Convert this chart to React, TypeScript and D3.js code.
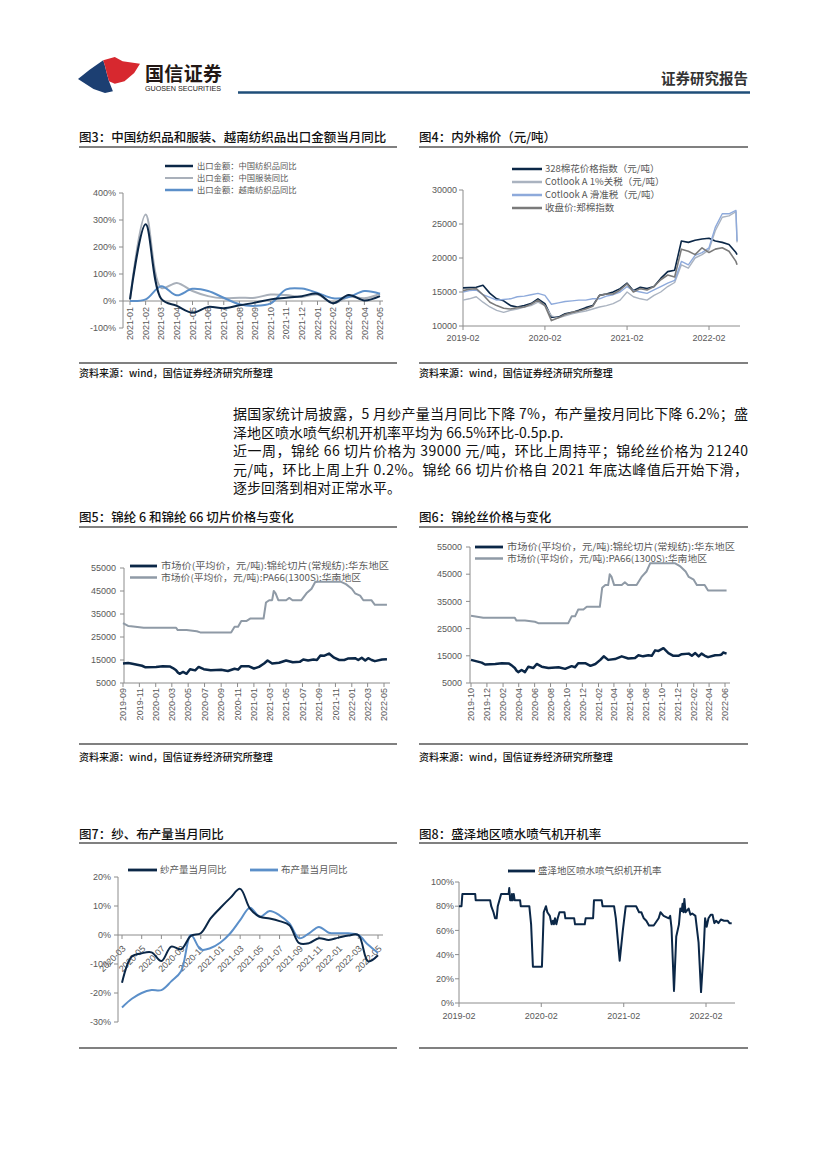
import React from "react";
import * as d3 from "d3";

const CJK = "'Noto Sans CJK SC','Noto Sans',sans-serif";
const NUM = "'Liberation Sans','DejaVu Sans',sans-serif";
const NAVY = "#0b2747";
const AXIS = "#8c8c8c";
const LABEL = "#595959";
const RULE = "#808080";

const parseDay = d3.timeParse("%Y-%m-%d");
const parseMonth = d3.timeParse("%Y-%m");

// ---------------- Chart 3 data ----------------
const c3Months = ["2021-01","2021-02","2021-03","2021-04","2021-05","2021-06","2021-07","2021-08","2021-09","2021-10","2021-11","2021-12","2022-01","2022-02","2022-03","2022-04","2022-05"];
const c3Textile = [6,284,8,-18,-43,-22,-27,-16,-6,6,12,18,27,-8,22,2,18];
const c3Apparel = [5,320,49,67,37,18,10,12,12,24,22,15,24,-8,15,10,27];
const c3Vietnam = [0,6,55,21,45,37,12,-12,-18,-9,43,46,30,10,15,37,27];
const c3Ticks = [-100,0,100,200,300,400];

// ---------------- Chart 4 data ----------------
const c4Dates = ["2019-02-01","2019-03-01","2019-04-01","2019-05-01","2019-06-01","2019-07-01","2019-08-01","2019-09-01","2019-10-01","2019-11-01","2019-12-01",
  "2020-01-01","2020-02-01","2020-03-01","2020-04-01","2020-05-01","2020-06-01","2020-07-01","2020-08-01","2020-09-01","2020-10-01","2020-11-01","2020-12-01",
  "2021-01-01","2021-02-01","2021-03-01","2021-04-01","2021-05-01","2021-06-01","2021-07-01","2021-08-01","2021-09-01","2021-10-01","2021-11-01","2021-12-01",
  "2022-01-01","2022-02-01","2022-03-01","2022-04-01","2022-05-01","2022-06-01","2022-06-06"];
const c4Index328 = [15600,15650,15700,16000,14800,14000,13700,13000,12800,13000,13300,14000,13300,11300,11300,11800,12000,12300,12700,13000,14500,14700,15000,15500,16300,15200,15700,15500,15800,17000,18000,18200,22500,22300,22600,22800,22900,22500,22300,22000,20800,20500];
const c4Cotlook1 = [13800,14000,14300,13500,12800,12300,12000,12300,12500,12800,13000,13500,13000,11500,11200,11500,11800,12000,12200,12500,12800,13000,13300,13800,15000,14300,14000,13800,14500,15000,15800,16400,19000,18500,20000,20500,21200,24000,26000,26200,26800,22300];
const c4CotlookSlide = [15000,15200,15300,14600,14200,13800,13900,14000,14300,14400,14600,14800,14500,13200,13400,13600,13700,13800,13800,14000,14000,14400,14600,15000,15800,15200,15000,14800,15300,15800,16300,16700,19500,19000,20400,20800,21500,24500,26500,26500,27000,22500];
const c4Zce = [15200,15400,15500,14600,13500,13000,12600,12500,12700,12800,13200,13800,13000,10800,11200,11700,12000,12200,12500,12900,14500,14700,14700,15300,16200,15000,15500,15300,15800,16800,17500,17200,21300,21000,20500,21500,20800,21300,21500,21000,19500,19000];
const c4Ticks = [10000,15000,20000,25000,30000];
const c4XTicks = ["2019-02","2020-02","2021-02","2022-02"];

// ---------------- Chart 5/6 data ----------------
const pa6Dates = ["2019-09-01","2019-09-20","2019-10-01","2019-11-11","2019-11-24","2020-01-02","2020-01-27","2020-02-22","2020-03-05","2020-03-17","2020-03-24","2020-03-30","2020-04-12","2020-04-25","2020-05-08","2020-05-27","2020-06-09","2020-06-28","2020-07-24","2020-09-01","2020-09-26","2020-10-21","2020-11-03","2020-11-15","2020-12-12","2021-01-01","2021-01-20","2021-02-08","2021-02-21","2021-03-10","2021-04-05","2021-05-01","2021-05-26","2021-06-21","2021-07-04","2021-07-22","2021-08-11","2021-08-24","2021-09-06","2021-09-19","2021-10-08","2021-10-27","2021-11-15","2021-12-04","2021-12-17","2022-01-13","2022-01-25","2022-02-07","2022-02-20","2022-03-03","2022-03-16","2022-03-28","2022-04-24","2022-05-12","2022-05-19","2022-05-25","2022-06-07"];
const pa6Prices = [13500,13700,13500,12500,11800,12000,12300,12200,11500,10500,9500,9000,9800,9000,11000,10500,12000,11000,10500,10800,10200,11200,10800,12300,12300,11300,12000,13500,14800,13500,13800,14800,14000,14200,15200,14800,15200,15000,17000,16800,17800,16000,15000,15000,15600,15800,15000,16000,14800,15800,15000,14500,15200,15300,15500,16200,15800];
const pa66Dates = ["2019-09-01","2019-09-20","2019-10-01","2019-11-17","2020-03-17","2020-03-23","2020-04-25","2020-06-02","2020-06-15","2020-10-08","2020-10-21","2020-11-03","2020-11-15","2020-12-05","2020-12-18","2021-02-06","2021-02-15","2021-02-27","2021-03-10","2021-03-16","2021-03-23","2021-04-02","2021-05-01","2021-05-13","2021-05-25","2021-06-27","2021-07-16","2021-08-04","2021-08-18","2021-11-22","2021-12-10","2022-01-01","2022-01-13","2022-02-01","2022-02-13","2022-03-15","2022-03-28","2022-05-12","2022-06-07"];
const pa66Prices = [31000,29800,29700,29000,29000,28000,28000,27500,27000,27000,29500,29500,32000,32000,33000,33000,40000,41000,41000,45000,44000,41000,41000,42000,41000,41000,44000,46000,49000,49000,48000,46000,44000,43000,41000,41000,39000,39000,39000];
const nylonTicks = [5000,15000,25000,35000,45000,55000];
const c5XTicks = ["2019-09","2019-11","2020-01","2020-03","2020-05","2020-07","2020-09","2020-11","2021-01","2021-03","2021-05","2021-07","2021-09","2021-11","2022-01","2022-03","2022-05"];
const c6XTicks = ["2019-10","2019-12","2020-02","2020-04","2020-06","2020-08","2020-10","2020-12","2021-02","2021-04","2021-06","2021-08","2021-10","2021-12","2022-02","2022-04","2022-06"];

// ---------------- Chart 7 data ----------------
const c7Months = ["2020-03","2020-04","2020-05","2020-06","2020-07","2020-08","2020-09","2020-10","2020-11","2020-12","2021-01","2021-02","2021-03","2021-04","2021-05","2021-06","2021-07","2021-08","2021-09","2021-10","2021-11","2021-12","2022-01","2022-02","2022-03","2022-04","2022-05"];
const c7Yarn = [-16.5,-7.4,-6.3,-6,-9,-4,-4.9,-0.3,0.6,5.7,9.4,12.8,15.9,9.1,6.3,5.7,4.8,3.4,-2.8,-2.8,-1.1,-1.7,-0.9,-0.2,0,-9.1,-7];
const c7Fabric = [-25,-22,-20,-19,-19,-16,-12.5,0,-5,-4.5,-2.6,0.6,5.1,9.4,6.3,8.3,6.8,4,-1.1,0.6,2.8,0.8,0.6,0.6,0,-3.4,-6.2];
const c7Ticks = [-30,-20,-10,0,10,20];
const c7XTicks = ["2020-03","2020-05","2020-07","2020-09","2020-11","2021-01","2021-03","2021-05","2021-07","2021-09","2021-11","2022-01","2022-03","2022-05"];

// ---------------- Chart 8 data ----------------
const c8Dates = ["2019-02-01","2019-02-12","2019-02-16","2019-04-14","2019-04-16","2019-06-19","2019-06-24","2019-07-04","2019-07-11","2019-07-18",
  "2019-07-23","2019-08-07","2019-09-09","2019-09-12","2019-09-16","2019-09-22","2019-09-24","2019-09-28","2019-10-02","2019-10-06",
  "2019-10-30","2019-11-02","2019-12-10","2019-12-18","2019-12-26","2020-02-04","2020-02-12","2020-02-18","2020-02-22","2020-02-28",
  "2020-03-10","2020-03-18","2020-03-24","2020-03-28","2020-04-02","2020-04-08","2020-04-14","2020-04-22","2020-05-14","2020-05-18",
  "2020-06-26","2020-06-30","2020-08-12","2020-08-16","2020-09-18","2020-09-22","2020-10-26","2020-10-30","2020-12-20","2020-12-28",
  "2021-01-14","2021-01-28","2021-02-10","2021-03-28","2021-04-10","2021-04-20","2021-05-01","2021-05-12","2021-05-24","2021-06-14",
  "2021-07-06","2021-07-14","2021-07-28","2021-08-20","2021-08-26","2021-09-01","2021-09-12","2021-09-22","2021-10-04","2021-10-10",
  "2021-10-16","2021-10-20","2021-10-24","2021-10-28","2021-11-02","2021-11-16","2021-11-24","2021-12-02","2021-12-16","2021-12-30",
  "2022-01-10","2022-01-22","2022-01-28","2022-02-04","2022-02-12","2022-02-22","2022-03-02","2022-03-10","2022-03-18","2022-03-28",
  "2022-04-08","2022-04-22","2022-05-08","2022-05-16","2022-05-26"];
const c8Rates = [80,80,90,90,85,85,80,75,70,70,
  80,90,90,95,85,85,90,85,90,85,
  85,80,80,65,30,30,75,78,80,75,
  72,65,68,65,70,65,70,75,75,70,
  70,65,65,70,70,85,85,80,80,70,
  35,60,80,80,75,75,70,68,64,64,
  70,75,72,70,72,62,10,55,65,78,
  76,82,75,86,75,78,73,74,72,50,
  9,45,70,63,70,73,73,66,68,66,
  69,68,68,66,66];
const c8Ticks = [0,20,40,60,80,100];
const c8XTicks = ["2019-02","2020-02","2021-02","2022-02"];

// ---------------- Body text ----------------
const bodyLines = [
  "据国家统计局披露，5 月纱产量当月同比下降 7%，布产量按月同比下降 6.2%；盛",
  "泽地区喷水喷气织机开机率平均为 66.5%环比-0.5p.p.",
  "近一周，锦纶 66 切片价格为 39000 元/吨，环比上周持平；锦纶丝价格为 21240",
  "元/吨，环比上周上升 0.2%。锦纶 66 切片价格自 2021 年底达峰值后开始下滑，",
  "逐步回落到相对正常水平。",
];
const bodyFull = [true, false, true, true, false];

type Pt = { d: Date; v: number };
const zipDates = (ds: string[], vs: number[]): Pt[] => ds.map((s, i) => ({ d: parseDay(s)!, v: vs[i] }));

function Title({ x, y, text }: { x: number; y: number; text: string }) {
  return <text x={x} y={y} fontSize={12.5} fontWeight={500} fill="#111" fontFamily={CJK}>{text}</text>;
}
function Rule({ x1, x2, y }: { x1: number; x2: number; y: number }) {
  return <line x1={x1} x2={x2} y1={y} y2={y} stroke={RULE} strokeWidth={2.2} />;
}
function Source({ x, y }: { x: number; y: number }) {
  return <text x={x} y={y} fontSize={10} fontWeight={500} fill="#111" fontFamily={CJK}>资料来源：wind，国信证券经济研究所整理</text>;
}
function LegendRow({ x1, x2, tx, y, color, sw, text, len, fs = 9 }: { x1: number; x2: number; tx: number; y: number; color: string; sw: number; text: string; len?: number; fs?: number }) {
  return (
    <g>
      <line x1={x1} x2={x2} y1={y} y2={y} stroke={color} strokeWidth={sw} />
      <text x={tx} y={y} dy="0.35em" fontSize={fs} fill={LABEL} fontFamily={CJK} textLength={len} lengthAdjust="spacingAndGlyphs">{text}</text>
    </g>
  );
}
function YAxis({ x, y1, y2, ticks, scale, fmt, labelX }: { x: number; y1: number; y2: number; ticks: number[]; scale: (v: number) => number; fmt: (v: number) => string; labelX: number }) {
  return (
    <g>
      <line x1={x} x2={x} y1={y1} y2={y2} stroke={AXIS} strokeWidth={1} />
      {ticks.map((t) => (
        <g key={t}>
          <line x1={x - 4} x2={x} y1={scale(t)} y2={scale(t)} stroke={AXIS} />
          <text x={labelX} y={scale(t)} dy="0.35em" textAnchor="end" fontSize={9} fill={LABEL} fontFamily={NUM}>{fmt(t)}</text>
        </g>
      ))}
    </g>
  );
}

function Header() {
  return (
    <g>
      <path d="M78,79 L89.6,69.7 L103.2,60.3 L105,66 L106.7,73 L109,81.3 L112.9,91.3 L105,93 L93.5,89 Z" fill="#1c3f72" />
      <path d="M103.2,60.3 L114.8,57 L122.6,61.3 L140,63.7 L134.2,73 L124.5,81.3 L114.8,83.7 L109,81.3 L106.7,73 L105,66 Z" fill="#d7282f" />
      <text x={145} y={81} fontSize={19} fontWeight="bold" fill="#231815" fontFamily={CJK} textLength={77}>国信证券</text>
      <text x={145} y={91} fontSize={6.5} fill="#231815" fontFamily={NUM} textLength={76} lengthAdjust="spacingAndGlyphs">GUOSEN SECURITIES</text>
      <text x={748} y={84} fontSize={14.5} fontWeight="bold" fill="#333" textAnchor="end" fontFamily={CJK}>证券研究报告</text>
      <line x1={238} x2={750} y1={92.5} y2={92.5} stroke="#1f4e79" strokeWidth={2.5} />
    </g>
  );
}

function Chart3() {
  const x = d3.scalePoint<string>().domain(c3Months).range([130, 380]);
  const y = d3.scaleLinear().domain([-100, 400]).range([328, 193]);
  const line = d3.line<number>().x((_, i) => x(c3Months[i])!).y((d) => y(d)).curve(d3.curveCatmullRom.alpha(0.5));
  const y0 = y(0);
  return (
    <g>
      <Title x={79} y={141.5} text="图3：中国纺织品和服装、越南纺织品出口金额当月同比" />
      <Rule x1={79} x2={397} y={147} />
      <LegendRow x1={165} x2={193} tx={197} y={166} color={NAVY} sw={2.5} text="出口金额：中国纺织品同比" fs={8.3} />
      <LegendRow x1={165} x2={193} tx={197} y={178} color="#a9b0ba" sw={2} text="出口金额：中国服装同比" fs={8.3} />
      <LegendRow x1={165} x2={193} tx={197} y={190} color="#5b8fc9" sw={2.5} text="出口金额：越南纺织品同比" fs={8.3} />
      <YAxis x={123} y1={193} y2={328} ticks={c3Ticks} scale={y} fmt={(v) => `${v}%`} labelX={116} />
      <line x1={123} x2={383} y1={y0} y2={y0} stroke={AXIS} />
      {c3Months.map((m) => (
        <g key={m}>
          <line x1={x(m)} x2={x(m)} y1={y0} y2={y0 + 4} stroke={AXIS} />
          <text transform={`translate(${x(m)},${y0 + 6}) rotate(-90)`} dy="0.35em" textAnchor="end" fontSize={9} fill={LABEL} fontFamily={NUM}>{m}</text>
        </g>
      ))}
      <path d={line(c3Apparel)!} fill="none" stroke="#a9b0ba" strokeWidth={2} />
      <path d={line(c3Vietnam)!} fill="none" stroke="#5b8fc9" strokeWidth={2} />
      <path d={line(c3Textile)!} fill="none" stroke={NAVY} strokeWidth={2} />
      <Rule x1={79} x2={397} y={363} />
      <Source x={79} y={377} />
    </g>
  );
}

function Chart4() {
  const x = d3.scaleTime().domain([parseDay("2019-02-01")!, parseDay("2022-02-01")!]).range([463, 709]);
  const y = d3.scaleLinear().domain([10000, 30000]).range([326, 190]);
  const line = d3.line<Pt>().x((p) => x(p.d)).y((p) => y(p.v));
  const series = [
    { v: c4Index328, c: NAVY, w: 1.6 },
    { v: c4Cotlook1, c: "#aab3c0", w: 1.4 },
    { v: c4CotlookSlide, c: "#8eaadb", w: 1.4 },
    { v: c4Zce, c: "#7a7a7a", w: 1.6 },
  ];
  return (
    <g>
      <Title x={419} y={141.5} text="图4：内外棉价（元/吨）" />
      <Rule x1={419} x2={748} y={147} />
      <LegendRow x1={512} x2={542} tx={545} y={169} color={NAVY} sw={2.5} text="328棉花价格指数（元/吨）" fs={9.5} />
      <LegendRow x1={512} x2={542} tx={545} y={182} color="#aab3c0" sw={2.5} text="Cotlook A 1%关税（元/吨）" fs={9.5} />
      <LegendRow x1={512} x2={542} tx={545} y={195} color="#8eaadb" sw={2.5} text="Cotlook A 滑准税（元/吨）" fs={9.5} />
      <LegendRow x1={512} x2={542} tx={545} y={208} color="#7a7a7a" sw={2.5} text="收盘价:郑棉指数" fs={9.5} />
      <YAxis x={463} y1={190} y2={326} ticks={c4Ticks} scale={y} fmt={(v) => `${v}`} labelX={457} />
      <line x1={463} x2={740} y1={326} y2={326} stroke={AXIS} />
      {c4XTicks.map((t) => {
        const px = x(parseMonth(t)!);
        return (
          <g key={t}>
            <line x1={px} x2={px} y1={326} y2={330} stroke={AXIS} />
            <text x={px} y={341} textAnchor="middle" fontSize={9} fill={LABEL} fontFamily={NUM}>{t}</text>
          </g>
        );
      })}
      {series.map((s, i) => (
        <path key={i} d={line(zipDates(c4Dates, s.v))!} fill="none" stroke={s.c} strokeWidth={s.w} strokeLinejoin="round" />
      ))}
      <Rule x1={419} x2={748} y={363} />
      <Source x={419} y={377} />
    </g>
  );
}

function Body() {
  const top = 419;
  const gap = 18.5;
  return (
    <g fontFamily={CJK} fontSize={14} fill="#111">
      {bodyLines.map((l, i) => (
        <text key={i} x={233} y={top + i * gap} textLength={bodyFull[i] ? 515 : undefined} lengthAdjust="spacing">{l}</text>
      ))}
    </g>
  );
}

function NylonChart({ title, x0, x1, tickStart, tickEnd, ticks, dataEnd, yTop, rx1, rx2, legX1, legX2, legTx, legY, axisX, axisRight }: any) {
  const x = d3.scaleTime().domain([parseMonth(tickStart)!, parseMonth(tickEnd)!]).range([x0, x1]);
  const y = d3.scaleLinear().domain([5000, 55000]).range([683, yTop]);
  const lo = x.domain()[0];
  const hi = parseDay(dataEnd)!;
  const line = d3.line<Pt>().x((p) => x(p.d)).y((p) => y(p.v));
  const dark = zipDates(pa6Dates, pa6Prices).filter((p) => p.d >= lo && p.d <= hi);
  const gray = zipDates(pa66Dates, pa66Prices).filter((p) => p.d >= lo && p.d <= hi);
  return (
    <g>
      <Title x={rx1} y={522} text={title} />
      <Rule x1={rx1} x2={rx2} y={527} />
      <LegendRow x1={legX1} x2={legX2} tx={legTx} y={legY} color={NAVY} sw={2.8} text="市场价(平均价，元/吨):锦纶切片(常规纺):华东地区" len={228} fs={9} />
      <LegendRow x1={legX1} x2={legX2} tx={legTx} y={legY + 11.5} color="#8f9aa6" sw={2.5} text="市场价(平均价，元/吨):PA66(1300S):华南地区" len={200} fs={9} />
      <YAxis x={axisX} y1={yTop} y2={683} ticks={nylonTicks} scale={y} fmt={(v) => `${v}`} labelX={axisX - 8} />
      <line x1={axisX} x2={axisRight} y1={683} y2={683} stroke={AXIS} />
      {ticks.map((t: string) => {
        const px = x(parseMonth(t)!);
        return (
          <g key={t}>
            <line x1={px} x2={px} y1={683} y2={687} stroke={AXIS} />
            <text transform={`translate(${px},${688}) rotate(-90)`} dy="0.35em" textAnchor="end" fontSize={9} fill={LABEL} fontFamily={NUM}>{t}</text>
          </g>
        );
      })}
      <path d={line(gray)!} fill="none" stroke="#8f9aa6" strokeWidth={2} strokeLinejoin="round" />
      <path d={line(dark)!} fill="none" stroke={NAVY} strokeWidth={2.5} strokeLinejoin="round" />
      <Rule x1={rx1} x2={rx2} y={744} />
      <Source x={rx1} y={761} />
    </g>
  );
}

function Chart7() {
  const x = d3.scalePoint<string>().domain(c7Months).range([122, 378]);
  const y = d3.scaleLinear().domain([-30, 20]).range([1022, 877]);
  const line = d3.line<number>().x((_, i) => x(c7Months[i])!).y((d) => y(d)).curve(d3.curveCatmullRom.alpha(0.5));
  const y0 = y(0);
  return (
    <g>
      <Title x={79} y={838.5} text="图7：纱、布产量当月同比" />
      <Rule x1={79} x2={397} y={843} />
      <LegendRow x1={128} x2={157} tx={160} y={870} color={NAVY} sw={2.8} text="纱产量当月同比" fs={9.5} />
      <LegendRow x1={250} x2={278} tx={281} y={870} color="#5b8fc9" sw={2.8} text="布产量当月同比" fs={9.5} />
      <YAxis x={118} y1={877} y2={1022} ticks={c7Ticks} scale={y} fmt={(v) => `${v}%`} labelX={111} />
      <line x1={118} x2={383} y1={y0} y2={y0} stroke={AXIS} />
      {c7XTicks.map((m) => (
        <g key={m}>
          <line x1={x(m)} x2={x(m)} y1={y0} y2={y0 + 4} stroke={AXIS} />
          <text transform={`translate(${x(m)! + 2},${y0 + 12}) rotate(-45)`} dy="0.35em" textAnchor="end" fontSize={9} fill={LABEL} fontFamily={NUM}>{m}</text>
        </g>
      ))}
      <path d={line(c7Fabric)!} fill="none" stroke="#5b8fc9" strokeWidth={2} />
      <path d={line(c7Yarn)!} fill="none" stroke={NAVY} strokeWidth={2} />
      <Rule x1={79} x2={397} y={1048} />
    </g>
  );
}

function Chart8() {
  const x = d3.scaleTime().domain([parseDay("2019-02-01")!, parseDay("2022-02-01")!]).range([459, 706]);
  const y = d3.scaleLinear().domain([0, 100]).range([1003, 882]);
  const line = d3.line<Pt>().x((p) => x(p.d)).y((p) => y(p.v));
  return (
    <g>
      <Title x={419} y={838.5} text="图8：盛泽地区喷水喷气机开机率" />
      <Rule x1={419} x2={748} y={843} />
      <LegendRow x1={508} x2={535} tx={538} y={871} color={NAVY} sw={2.8} text="盛泽地区喷水喷气织机开机率" fs={9.5} />
      <YAxis x={459} y1={882} y2={1003} ticks={c8Ticks} scale={y} fmt={(v) => `${v}%`} labelX={454} />
      <line x1={459} x2={735} y1={1003} y2={1003} stroke={AXIS} />
      {c8XTicks.map((t) => {
        const px = x(parseMonth(t)!);
        return (
          <g key={t}>
            <line x1={px} x2={px} y1={1003} y2={1007} stroke={AXIS} />
            <text x={px} y={1019} textAnchor="middle" fontSize={9} fill={LABEL} fontFamily={NUM}>{t}</text>
          </g>
        );
      })}
      <path d={line(zipDates(c8Dates, c8Rates))!} fill="none" stroke={NAVY} strokeWidth={2} strokeLinejoin="round" />
      <Rule x1={419} x2={748} y={1048} />
    </g>
  );
}

export default function App() {
  return (
    <svg width={827} height={1169} style={{ position: "absolute", left: 0, top: 0, background: "#fff" }} fontFamily={CJK}>
      <rect width={827} height={1169} fill="#fff" />
      <Header />
      <Chart3 />
      <Chart4 />
      <Body />
      <NylonChart title="图5：锦纶 6 和锦纶 66 切片价格与变化" x0={123} x1={384} tickStart="2019-09" tickEnd="2022-05" ticks={c5XTicks}
        dataEnd="2022-05-15" yTop={568} rx1={79} rx2={397} legX1={130} legX2={157} legTx={161} legY={566} axisX={124} axisRight={390} />
      <NylonChart title="图6：锦纶丝价格与变化" x0={471} x1={725} tickStart="2019-10" tickEnd="2022-06" ticks={c6XTicks}
        dataEnd="2022-06-30" yTop={547} rx1={419} rx2={748} legX1={475} legX2={503} legTx={507} legY={547} axisX={470} axisRight={730} />
      <Chart7 />
      <Chart8 />
    </svg>
  );
}
